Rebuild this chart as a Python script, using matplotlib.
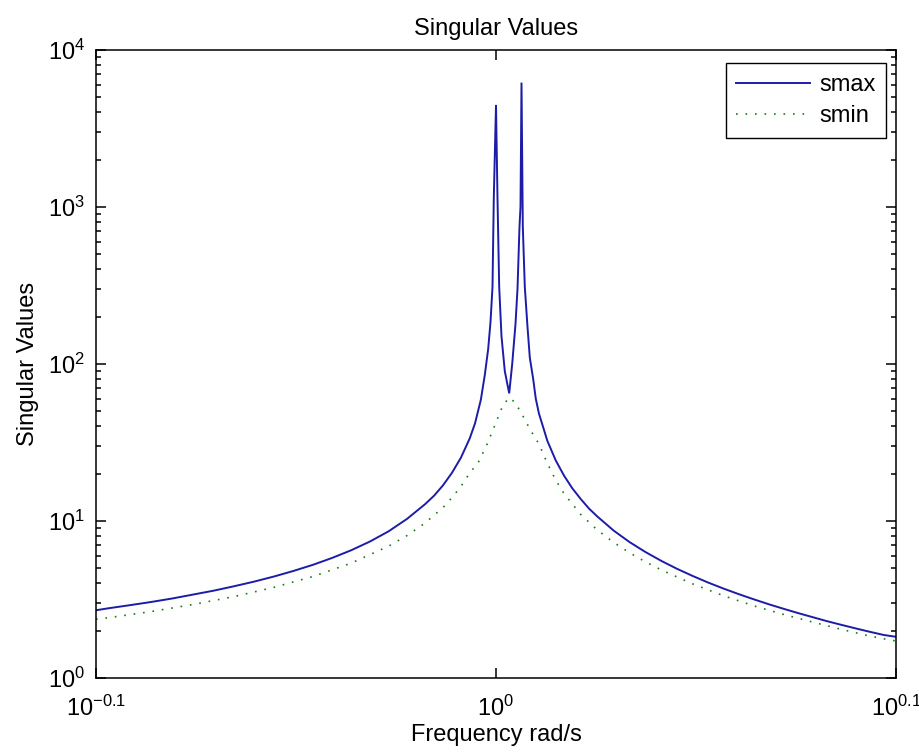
import matplotlib
matplotlib.use("Agg")
import matplotlib.pyplot as plt
from matplotlib.ticker import FixedLocator, NullLocator, LogLocator, NullFormatter, FixedFormatter

# --- data: largest / smallest singular value versus frequency (rad/s) ---
freq_smax = [0.7943, 0.80, 0.81, 0.82, 0.83, 0.84, 0.85, 0.86, 0.87, 0.88,
             0.89, 0.90, 0.91, 0.92, 0.93, 0.94, 0.95, 0.96, 0.965, 0.97,
             0.975, 0.98, 0.985, 0.988, 0.99129, 0.99357, 0.99552,
             0.99684, 0.99799, 0.99873, 1.0, 1.00086, 1.00184, 1.00317,
             1.00508, 1.00763, 1.00937, 1.01129, 1.01245, 1.01362, 1.01420,
             1.01479, 1.01555, 1.01672, 1.01830, 1.01965, 1.02165, 1.02318,
             1.025, 1.03, 1.035, 1.04, 1.045, 1.05, 1.055, 1.06, 1.07, 1.08,
             1.09, 1.10, 1.11, 1.12, 1.13, 1.14, 1.15, 1.16, 1.17, 1.18,
             1.19, 1.20, 1.21, 1.22, 1.23, 1.24, 1.25, 1.2589]
smax = [2.70, 2.78, 2.91, 3.05, 3.21, 3.40, 3.60, 3.84, 4.11, 4.43,
        4.81, 5.26, 5.82, 6.51, 7.40, 8.59, 10.3, 12.8, 14.5, 16.9,
        20.3, 25.3, 33.6, 41.9, 59.0, 85.0, 125.0,
        185.0, 310.0, 1140.0, 4470.0, 1140.0, 310.0, 150.0,
        90.0, 65.0, 100.0, 180.0, 300.0, 750.0, 1000.0,
        6200.0, 750.0, 310.0, 172.0, 110.0, 80.0, 60.0,
        48.5, 32.4, 24.3, 19.4, 16.1, 13.8, 12.0, 10.7, 8.70, 7.33,
        6.33, 5.56, 4.95, 4.46, 4.05, 3.71, 3.42, 3.17, 2.95, 2.76,
        2.59, 2.44, 2.30, 2.18, 2.07, 1.97, 1.88, 1.83]

freq_smin = [0.7943, 0.80, 0.82, 0.84, 0.86, 0.88, 0.90, 0.92, 0.94, 0.95,
             0.96, 0.97, 0.975, 0.98, 0.985, 0.99, 0.995, 1.0, 1.004, 1.0076,
             1.011, 1.015, 1.02, 1.025, 1.03, 1.035, 1.04, 1.05, 1.06, 1.07,
             1.08, 1.09, 1.10, 1.12, 1.14, 1.16, 1.18, 1.20, 1.22, 1.24, 1.2589]
smin = [2.37, 2.42, 2.65, 2.94, 3.30, 3.78, 4.43, 5.39, 6.91, 8.07,
        9.71, 12.2, 14.1, 16.6, 20.2, 23.8, 31.0, 42.5, 54.6, 61.0,
        57.0, 48.0, 38.0, 31.0, 23.3, 18.2, 14.9, 11.0, 8.77, 7.31,
        6.27, 5.48, 4.87, 3.97, 3.34, 2.88, 2.54, 2.27, 2.04, 1.85, 1.72]

x_ticks = [10 ** -0.1, 1.0, 10 ** 0.1]
x_tick_labels = [r"$10^{-0.1}$", r"$10^{0}$", r"$10^{0.1}$"]
y_ticks = [1, 10, 100, 1000, 10000]
y_tick_labels = [r"$10^{0}$", r"$10^{1}$", r"$10^{2}$", r"$10^{3}$", r"$10^{4}$"]

# --- fonts ---
base_font = "Liberation Sans"
fs = 17
plt.rcParams["font.family"] = [base_font, "DejaVu Sans"]
plt.rcParams["mathtext.fontset"] = "custom"
plt.rcParams["mathtext.rm"] = base_font
plt.rcParams["mathtext.it"] = base_font
plt.rcParams["mathtext.default"] = "regular"

fig = plt.figure(figsize=(9.2, 7.56), dpi=100)
ax = fig.add_axes([96 / 920, 1 - 678 / 756, 800 / 920, 628 / 756])

ax.loglog(freq_smax, smax, color="#1c1ca8", lw=1.4, solid_joinstyle="miter", label="smax")
ax.loglog(freq_smin, smin, color="#1a7a1a", lw=1.2, linestyle=(0, (1, 4.7)), label="smin")

ax.set_xlim(10 ** -0.1, 10 ** 0.1)
ax.set_ylim(1, 10000)

ax.xaxis.set_major_locator(FixedLocator(x_ticks))
ax.xaxis.set_major_formatter(FixedFormatter(x_tick_labels))
ax.xaxis.set_minor_locator(NullLocator())
ax.yaxis.set_major_locator(FixedLocator(y_ticks))
ax.yaxis.set_major_formatter(FixedFormatter(y_tick_labels))
ax.yaxis.set_minor_locator(LogLocator(base=10, subs=range(2, 10)))
ax.yaxis.set_minor_formatter(NullFormatter())

ax.tick_params(which="both", direction="in", top=True, right=True, width=1.1, colors="black")
ax.tick_params(which="major", length=7, labelsize=fs)
ax.tick_params(axis="y", which="major", pad=8)
ax.tick_params(axis="x", which="major", pad=13)
ax.tick_params(which="minor", length=3.5)
for s in ax.spines.values():
    s.set_linewidth(1.1)

ax.set_title("Singular Values", fontsize=fs, pad=11)
ax.set_xlabel("Frequency rad/s", fontsize=fs, labelpad=2)
ax.set_ylabel("Singular Values", fontsize=fs, labelpad=6)

leg = ax.legend(loc="upper right", bbox_to_anchor=(0.9875, 0.979), fontsize=fs,
                frameon=True, fancybox=False, edgecolor="black", framealpha=1,
                handlelength=3.1, borderpad=0.45, labelspacing=0.4, handletextpad=0.4,
                borderaxespad=0)
leg.get_frame().set_linewidth(1.0)

fig.savefig("out.png", dpi=100)
